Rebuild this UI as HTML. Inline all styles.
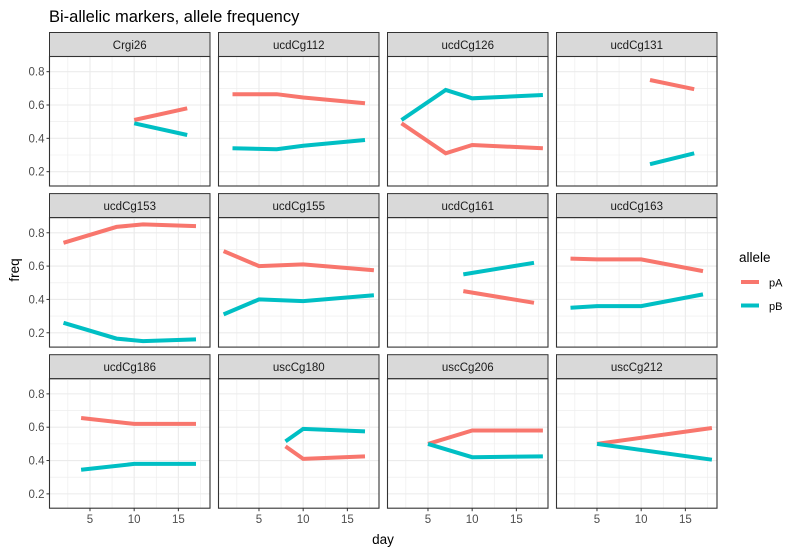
<!DOCTYPE html>
<html><head><meta charset="utf-8"><style>
html,body{margin:0;padding:0;background:#fff}
svg{display:block;font-family:"Liberation Sans",Arial,sans-serif}
</style></head><body>
<svg id="chart" width="799" height="553" viewBox="0 0 799 553">
<text x="49" y="22" font-size="16.5" fill="#000">Bi-allelic markers, allele frequency</text>
<text x="383" y="544" font-size="13.5" text-anchor="middle" fill="#000">day</text>
<text transform="translate(19,270) rotate(-90)" font-size="13.5" text-anchor="middle" fill="#000">freq</text>
<g>
<text x="739" y="262" font-size="13.5" fill="#000">allele</text>
<line x1="741" x2="759" y1="282" y2="282" stroke="#F8766D" stroke-width="4"/>
<text x="769" y="286.5" font-size="11" fill="#000">pA</text>
<line x1="741" x2="759" y1="305.5" y2="305.5" stroke="#00BFC4" stroke-width="4"/>
<text x="769" y="310" font-size="11" fill="#000">pB</text>
</g>
</svg>
<script>
const panelNames = ["Crgi26","ucdCg112","ucdCg126","ucdCg131","ucdCg153","ucdCg155","ucdCg161","ucdCg163","ucdCg186","uscCg180","uscCg206","uscCg212"];
const panelDays = [[10,16],[2,7,10,17],[2,7,10,18],[11,16],[2,8,11,17],[1,5,10,18],[9,17],[2,5,10,17],[4,10,17],[8,10,17],[5,10,18],[5,18]];
const pAValues = [[0.51,0.58],[0.665,0.665,0.645,0.61],[0.49,0.31,0.36,0.34],[0.75,0.695],[0.74,0.835,0.85,0.84],[0.69,0.60,0.61,0.575],[0.45,0.38],[0.645,0.64,0.64,0.57],[0.655,0.62,0.62],[0.485,0.41,0.425],[0.5,0.58,0.58],[0.5,0.595]];
const pBValues = [[0.49,0.42],[0.34,0.335,0.355,0.39],[0.51,0.69,0.64,0.66],[0.245,0.31],[0.26,0.165,0.15,0.16],[0.31,0.40,0.39,0.425],[0.55,0.62],[0.35,0.36,0.36,0.43],[0.345,0.38,0.38],[0.515,0.59,0.575],[0.5,0.42,0.425],[0.5,0.405]];
const xTicks = [5,10,15];
const yTicks = [0.2,0.4,0.6,0.8];

const NS="http://www.w3.org/2000/svg";
const svg=document.getElementById('chart');
const colX0=49.5, colPitch=169, pw=160.5;
const rowY0=32.5, rowPitch=161.1, stripH=24, ph=129.5;
const xMin=0.42, xMax=18.58, yMin=0.114, yMax=0.891;
function mk(tag,attrs,parent){const e=document.createElementNS(NS,tag);for(const k in attrs)e.setAttribute(k,attrs[k]);(parent||svg).appendChild(e);return e;}

panelNames.forEach((name,i)=>{
  const c=i%4, r=Math.floor(i/4);
  const px=colX0+c*colPitch, sy=rowY0+r*rowPitch, py=sy+stripH;
  const sx=d=>px+(d-xMin)/(xMax-xMin)*pw;
  const syv=v=>py+ph-(v-yMin)/(yMax-yMin)*ph;
  const g=mk('g',{});
  
  
  const strip=mk('rect',{x:px,y:sy,width:pw,height:stripH,fill:'#d9d9d9',stroke:'#333',"stroke-width":1},g);
  
  
  const st=mk('text',{x:px+pw/2,y:sy+16.5,"font-size":11.5,"text-anchor":"middle",fill:'#1a1a1a'},g);
  st.textContent=name;
  
  
  [2.5,7.5,12.5,17.5].forEach(d=>{const l=mk('line',{x1:sx(d),x2:sx(d),y1:py,y2:py+ph,stroke:'#ebebeb',"stroke-width":0.6},g);});
  [0.3,0.5,0.7].forEach(v=>{const l=mk('line',{x1:px,x2:px+pw,y1:syv(v),y2:syv(v),stroke:'#ebebeb',"stroke-width":0.6},g);});
  xTicks.forEach(d=>{const l=mk('line',{x1:sx(d),x2:sx(d),y1:py,y2:py+ph,stroke:'#ebebeb',"stroke-width":1.1},g);});
  yTicks.forEach(v=>{const l=mk('line',{x1:px,x2:px+pw,y1:syv(v),y2:syv(v),stroke:'#ebebeb',"stroke-width":1.1},g);});
  [[pAValues,'#F8766D','pA'],[pBValues,'#00BFC4','pB']].forEach(([arr,col,nm])=>{
    const pts=panelDays[i].map((d,k)=>sx(d).toFixed(1)+','+syv(arr[i][k]).toFixed(1)).join(' ');
    const pl=mk('polyline',{points:pts,fill:'none',stroke:col,"stroke-width":4},g);
    
    
  });
  const border=mk('rect',{x:px,y:py,width:pw,height:ph,fill:'none',stroke:'#333',"stroke-width":1.1},g);
  
  
  if(c===0){
    yTicks.forEach(v=>{
      const t=mk('line',{x1:px-3,x2:px,y1:syv(v),y2:syv(v),stroke:'#333',"stroke-width":1},g);
      
      
      const tl=mk('text',{x:px-5,y:syv(v)+4,"font-size":11.5,"text-anchor":"end",fill:'#4d4d4d'},g);
      tl.textContent=v.toFixed(1);
      
      
    });
  }
  if(r===2){
    xTicks.forEach(d=>{
      const t=mk('line',{x1:sx(d),x2:sx(d),y1:py+ph,y2:py+ph+3,stroke:'#333',"stroke-width":1},g);
      
      
      const tl=mk('text',{x:sx(d),y:py+ph+15,"font-size":11.5,"text-anchor":"middle",fill:'#4d4d4d'},g);
      tl.textContent=d;
      
      
    });
  }
});
</script>
</body></html>
